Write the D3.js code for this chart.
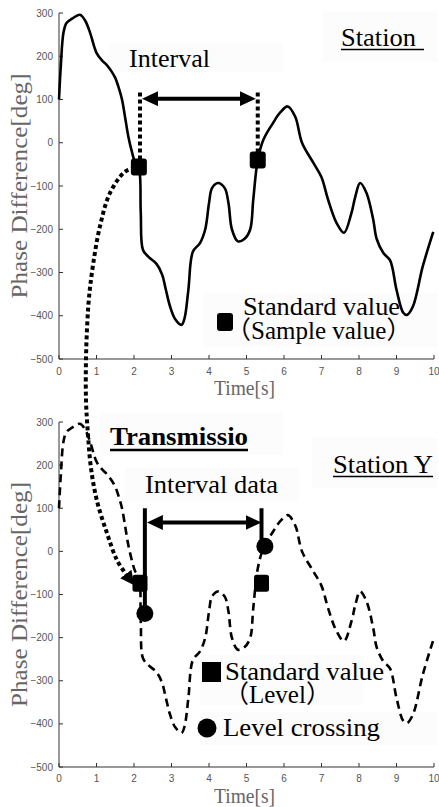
<!DOCTYPE html>
<html><head><meta charset="utf-8">
<script src="https://cdn.jsdelivr.net/npm/d3@7"></script>
<style>html,body{margin:0;padding:0;background:#fff;}svg{display:block;}</style>
</head><body>
<svg id="c" width="439" height="807"></svg>
<script>
// ---- data ----
const times = [0,0.05,0.12,0.2,0.35,0.56,0.7,0.83,1.0,1.15,1.27,1.4,1.5,1.6,1.68,1.77,1.85,1.95,2.03,2.13,2.18,2.24,2.4,2.6,2.75,2.85,2.96,3.1,3.27,3.35,3.45,3.57,3.76,3.9,4.0,4.08,4.24,4.42,4.52,4.61,4.77,4.95,5.1,5.18,5.3,5.45,5.71,5.9,6.1,6.3,6.48,6.78,7.0,7.17,7.4,7.6,7.8,7.9,8.03,8.2,8.38,8.47,8.65,8.83,9.0,9.18,9.28,9.44,9.7,9.98];
const phase = [100,180,255,277,287,296,282,254,208,190,180,165,150,125,100,55,14,-23,-46,-58,-160,-248,-265,-280,-305,-340,-378,-408,-421,-405,-340,-252,-232,-200,-140,-105,-93,-105,-140,-200,-228,-222,-200,-132,-40,7,46,70,84,60,0,-46,-80,-130,-185,-208,-162,-125,-93,-116,-178,-222,-255,-272,-340,-393,-398,-378,-286,-206];
const xTicks = [0,1,2,3,4,5,6,7,8,9,10];
const yTicks = [-500,-400,-300,-200,-100,0,100,200,300];
// top panel: sampled standard values
const sampleT = [2.13, 5.3];
const sampleV = [-56, -40];
const topInterval = {t0: 2.16, t1: 5.3, arrowV: 102, lineTop: 116};
// bottom panel: level standard values & level crossings
const levelT = [2.16, 5.4];
const levelV = [-74, -74];
const crossT = [2.29, 5.49];
const crossV = [-144, 12];
const botInterval = {t0: 2.29, t1: 5.4, arrowV: 67, lineTop: 100};
// dotted connector (t, v, panel)
const connT = [2.03,1.76,1.36,1.09,0.91,0.8,0.75,0.72,0.72,0.77,0.85,1.01,1.28,1.55,1.83];
const connV = [-58,-67,-116,-194,-281,-358,-425,-500,350,274,195,118,42,-21,-58];
const connP = [0,0,0,0,0,0,0,0,1,1,1,1,1,1,1];

// ---- scales ----
const svg = d3.select("#c");
const x = d3.scaleLinear().domain([0,10]).range([59,434]);
const yTop = d3.scaleLinear().domain([-500,300]).range([359,13]);
const yBot = d3.scaleLinear().domain([-500,300]).range([767,422]);
const serif = "'Liberation Serif','Times New Roman',serif";
const cjk = "'Liberation Serif','Noto Sans CJK JP',serif";

svg.append("rect").attr("width",439).attr("height",807).attr("fill","#fff");

// faint annotation boxes
const boxes = [[110,43,172,29],[322,12,116,50],[203,293,235,54],[100,413,182,42],[125,468,173,34],[312,438,126,50],[200,655,162,50],[200,712,238,33]];
svg.selectAll("rect.bx").data(boxes).join("rect").attr("class","bx")
  .attr("x",d=>d[0]).attr("y",d=>d[1]).attr("width",d=>d[2]).attr("height",d=>d[3]).attr("fill","#fcfcfc");

const defs = svg.append("defs");
defs.append("marker").attr("id","ah").attr("viewBox","0 0 16 15").attr("refX",2).attr("refY",7.5)
  .attr("markerWidth",16).attr("markerHeight",15).attr("markerUnits","userSpaceOnUse").attr("orient","auto-start-reverse")
  .append("path").attr("d","M0,0L16,7.5L0,15Z").attr("fill","#000");
defs.append("marker").attr("id","ah2").attr("viewBox","0 0 14 14").attr("refX",3).attr("refY",7)
  .attr("markerWidth",14).attr("markerHeight",14).attr("markerUnits","userSpaceOnUse").attr("orient","auto")
  .append("path").attr("d","M0,0L14,7L0,14Z").attr("fill","#000");

function drawAxes(y, xLabY, tickLabY){
  const g = svg.append("g");
  g.append("line").attr("x1",x(0)).attr("x2",x(10)).attr("y1",y(-500)).attr("y2",y(-500)).attr("stroke","#333").attr("stroke-width",1);
  g.append("line").attr("x1",x(0)).attr("x2",x(0)).attr("y1",y(-500)).attr("y2",y(300)).attr("stroke","#333").attr("stroke-width",1);
  g.selectAll("line.xt").data(xTicks).join("line").attr("class","xt")
    .attr("x1",d=>x(d)).attr("x2",d=>x(d)).attr("y1",y(-500)).attr("y2",y(-500)-4).attr("stroke","#333");
  g.selectAll("line.yt").data(yTicks).join("line").attr("class","yt")
    .attr("x1",x(0)).attr("x2",x(0)+4).attr("y1",d=>y(d)).attr("y2",d=>y(d)).attr("stroke","#333");
  g.selectAll("text.xl").data(xTicks).join("text").attr("class","xl")
    .attr("x",d=>x(d)).attr("y",tickLabY).attr("text-anchor","middle")
    .attr("font-family","'Liberation Sans',Arial,sans-serif").attr("font-size",10).attr("fill","#555").text(d=>d);
  g.selectAll("text.yl").data(yTicks).join("text").attr("class","yl")
    .attr("x",x(0)-6).attr("y",d=>y(d)).attr("dy","0.35em").attr("text-anchor","end")
    .attr("font-family","'Liberation Sans',Arial,sans-serif").attr("font-size",10).attr("fill","#555")
    .text(d=>d<0?"\u2212"+(-d):d);
  g.append("text").attr("x",x(5)-2).attr("y",xLabY).attr("text-anchor","middle")
    .attr("font-family",serif).attr("font-size",20).attr("fill","#666")
    .attr("textLength",61).attr("lengthAdjust","spacingAndGlyphs").text("Time[s]");
  const cy = (y(300)+y(-500))/2;
  g.append("text").attr("transform",`translate(27,${cy}) rotate(-90)`).attr("text-anchor","middle")
    .attr("font-family",serif).attr("font-size",23).attr("fill","#666")
    .attr("textLength",225).attr("lengthAdjust","spacingAndGlyphs").text("Phase Difference[deg]");
}
drawAxes(yTop, 395, 375);
drawAxes(yBot, 803, 782);

const pts = times.map((t,i)=>[t,phase[i]]);
const lineTop = d3.line().x(d=>x(d[0])).y(d=>yTop(d[1])).curve(d3.curveCatmullRom.alpha(0.5));
const lineBot = d3.line().x(d=>x(d[0])).y(d=>yBot(d[1])).curve(d3.curveCatmullRom.alpha(0.5));

function txt(s,xx,yy,len,opts={}){
  const t = svg.append("text").attr("x",xx).attr("y",yy).attr("font-family",opts.family||serif)
    .attr("font-size",opts.size||26).attr("fill","#000").text(s);
  if(len) t.attr("textLength",len).attr("lengthAdjust","spacingAndGlyphs");
  if(opts.bold) t.attr("font-weight","bold");
  return t;
}
// ---- top panel annotations ----
txt("Interval",129,67,81);
txt("Station",341,46,75);
svg.append("line").attr("x1",341).attr("x2",424).attr("y1",49.5).attr("y2",49.5).attr("stroke","#000").attr("stroke-width",1.6);
txt("Standard value",243,315,157,{size:25});
txt("\uFF08Sample value\uFF09",226,339,null,{family:cjk,size:25});

svg.append("path").datum(pts).attr("d",lineTop).attr("fill","none").attr("stroke","#000").attr("stroke-width",2.6);

[topInterval.t0, topInterval.t1].forEach((t,i)=>{
  svg.append("line").attr("x1",x(t)).attr("x2",x(t)).attr("y1",yTop(topInterval.lineTop)).attr("y2",yTop(sampleV[i]))
    .attr("stroke","#000").attr("stroke-width",4).attr("stroke-dasharray","4,3");
});
svg.append("line").attr("x1",x(topInterval.t0)+16).attr("x2",x(topInterval.t1)-16)
  .attr("y1",yTop(topInterval.arrowV)).attr("y2",yTop(topInterval.arrowV))
  .attr("stroke","#000").attr("stroke-width",4).attr("marker-start","url(#ah)").attr("marker-end","url(#ah)");

svg.selectAll("rect.smp").data(sampleT).join("rect").attr("class","smp")
  .attr("x",(d)=>x(d)-8).attr("y",(d,i)=>yTop(sampleV[i])-8.5).attr("width",16).attr("height",17).attr("rx",3).attr("fill","#000");
svg.append("rect").attr("x",217).attr("y",313).attr("width",16).attr("height",18).attr("rx",3).attr("fill","#000");

// ---- bottom panel ----
txt("Transmissio",110,445,138,{bold:true});
svg.append("line").attr("x1",110).attr("x2",248).attr("y1",450).attr("y2",450).attr("stroke","#000").attr("stroke-width",2.5);
txt("Interval data",145,493,133);
txt("Station Y",333,473,100);
svg.append("line").attr("x1",333).attr("x2",433).attr("y1",476.5).attr("y2",476.5).attr("stroke","#000").attr("stroke-width",1.6);

svg.append("path").datum(pts).attr("d",lineBot).attr("fill","none").attr("stroke","#000").attr("stroke-width",2.6).attr("stroke-dasharray","8,5");

[botInterval.t0, botInterval.t1].forEach((t,i)=>{
  svg.append("line").attr("x1",x(t)).attr("x2",x(t)).attr("y1",yBot(botInterval.lineTop)).attr("y2",yBot(crossV[i]))
    .attr("stroke","#000").attr("stroke-width",4);
});
svg.append("line").attr("x1",x(botInterval.t0)+16).attr("x2",x(botInterval.t1)-14)
  .attr("y1",yBot(botInterval.arrowV)).attr("y2",yBot(botInterval.arrowV))
  .attr("stroke","#000").attr("stroke-width",4).attr("marker-start","url(#ah)").attr("marker-end","url(#ah)");

svg.selectAll("rect.lvl").data(levelT).join("rect").attr("class","lvl")
  .attr("x",d=>x(d)-7.5).attr("y",(d,i)=>yBot(levelV[i])-8.5).attr("width",15).attr("height",17).attr("rx",2.5).attr("fill","#000");
svg.selectAll("circle.crs").data(crossT).join("circle").attr("class","crs")
  .attr("cx",d=>x(d)).attr("cy",(d,i)=>yBot(crossV[i])).attr("r",8.5).attr("fill","#000");

// legend bottom
svg.append("rect").attr("x",202).attr("y",662).attr("width",19).attr("height",20).attr("fill","#000");
txt("Standard value",225,680,159,{size:25});
txt("\uFF08Level\uFF09",224,703,null,{family:cjk,size:25});
svg.append("circle").attr("cx",207).attr("cy",728).attr("r",9.5).attr("fill","#000");
txt("Level crossing",223,736,157);

// dotted connector
const connPts = connT.map((t,i)=>[x(t), (connP[i]===0?yTop:yBot)(connV[i])]);
svg.append("path").datum(connPts).attr("d",d3.line().curve(d3.curveCatmullRom.alpha(0.5)))
  .attr("fill","none").attr("stroke","#000").attr("stroke-width",4).attr("stroke-dasharray","4,3")
  .attr("marker-end","url(#ah2)");
</script>
</body></html>
